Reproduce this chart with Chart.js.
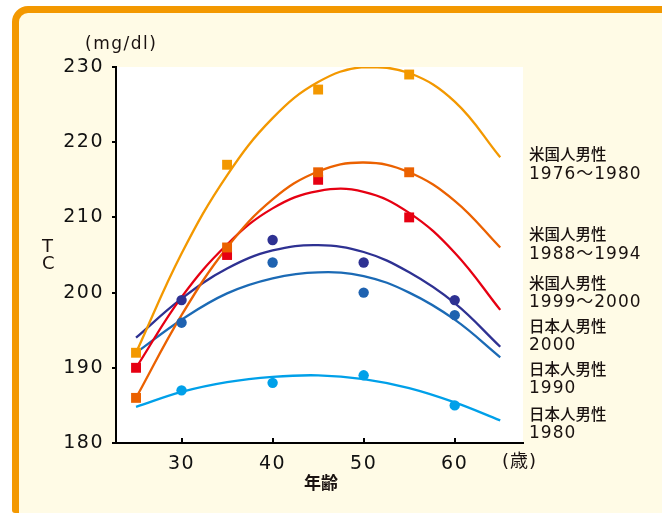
<!DOCTYPE html>
<html>
<head>
<meta charset="utf-8">
<script src="https://cdn.jsdelivr.net/npm/chart.js@4.4.1/dist/chart.umd.min.js"></script>
<style>
  html, body { margin: 0; padding: 0; background: #fff; overflow: hidden; }
  #wrap { position: relative; width: 662px; height: 514px; overflow: hidden; }
  .frame {
    position: absolute; left: 12px; top: 6px; width: 700px; height: 507px;
    box-sizing: border-box; border: 7px solid #F39800; border-bottom: 0;
    border-radius: 16px 16px 0 3px; background: #FFFBE6;
  }
  canvas { position: absolute; left: 0; top: 0; }
  .lbl { position: absolute; color: #1a1210; white-space: nowrap; }
  .num { font-family: "DejaVu Sans", "Noto Sans CJK JP", sans-serif; }
  .jp { font-family: "Noto Sans CJK JP", sans-serif; }
  .ser { left: 529px; line-height: 19px; }
  .ser .jp { font-size: 15.5px; font-weight: 500; }
  .ser .num { font-size: 17px; letter-spacing: 1px; }
</style>
</head>
<body>
<div id="wrap">
  <div class="frame"></div>
  <canvas id="tc-chart" width="662" height="514"></canvas>
  <div class="lbl num" style="left:85px; top:33px; font-size:17px; line-height:20px; letter-spacing:1.5px;">(mg/dl)</div>
  <div class="lbl num" style="left:42px; top:237px; font-size:18px; line-height:17px;">T<br>C</div>
  <div class="lbl jp" style="left:304px; top:472px; font-size:17px; line-height:20px; font-weight:700;">年齢</div>
  <div class="lbl num" style="left:502px; top:450px; font-size:18px; line-height:22px; letter-spacing:1px;">(歳)</div>
  <div id="series-labels"></div>
</div>
<script>
// ages used for the fitted curves and for the two survey groups
const curveAges = [25, 30, 35, 40, 45, 50, 55, 60, 65];
const usAges = [25, 35, 45, 55];
const jpAges = [30, 40, 50, 60];

// fitted curves
const us7680Curve = [192, 205.2, 215.6, 223.2, 228.0, 230.0, 229.2, 225.4, 218.0];
const us8894Curve = [186, 197.0, 206.0, 212.4, 216.1, 217.3, 216.0, 212.2, 206.0];
const us9900Curve = [190, 199.4, 206.4, 211.2, 213.5, 213.4, 210.6, 205.3, 197.7];
const jp2000Curve = [194, 199.2, 203.2, 205.6, 206.3, 205.4, 202.7, 198.6, 192.8];
const jp1990Curve = [192, 196.4, 199.9, 201.9, 202.7, 202.2, 200.0, 196.4, 191.4];
const jp1980Curve = [184.8, 186.8, 188.1, 188.8, 189.0, 188.5, 187.3, 185.4, 183.0];

// measured points
const us7680Pts = [192, 217, 227, 229];
const us8894Pts = [186, 206, 216, 216];
const us9900Pts = [190, 205, 215, 210];
const jp2000Pts = [199, 207, 204, 199];
const jp1990Pts = [196, 204, 200, 197];
const jp1980Pts = [187, 188, 189, 185];

const seriesNames = [
    ["米国人男性", "1976～1980"],
    ["米国人男性", "1988～1994"],
    ["米国人男性", "1999～2000"],
    ["日本人男性", "2000"],
    ["日本人男性", "1990"],
    ["日本人男性", "1980"]
];

const xTicks = [30, 40, 50, 60];
const yTicks = [180, 190, 200, 210, 220, 230];

const colors = ["#F39800", "#EB6100", "#E60012", "#2E3192", "#1B6AB5", "#00A0E9"];

// label blocks on the right: top of each block and its line height, px
const labelTops = [143, 223, 273, 316, 359, 404];
const labelLines = [20, 20, 19, 19, 19, 19];
const holder = document.getElementById("series-labels");
seriesNames.forEach((lines, i) => {
    const div = document.createElement("div");
    div.className = "lbl ser";
    div.style.top = labelTops[i] + "px";
    div.style.lineHeight = labelLines[i] + "px";
    div.innerHTML = `<div class="jp">${lines[0]}</div><div class="num">${lines[1]}</div>`;
    holder.appendChild(div);
});

function toXY(xs, ys) {
    return xs.map((x, i) => ({ x: x, y: ys[i] }));
}

function curve(ys, color) {
    return {
        data: toXY(curveAges, ys),
        showLine: true,
        borderColor: color,
        borderWidth: 2.3,
        pointRadius: 0,
        tension: 0.4,
        fill: false,
        order: 2
    };
}

function marks(xs, ys, color, style) {
    return {
        data: toXY(xs, ys),
        showLine: false,
        pointStyle: style,
        pointRadius: style === "rect" ? 7 : 5.2,
        backgroundColor: color,
        borderColor: color,
        borderWidth: 0,
        order: 1
    };
}

// white plot area, and wider digits for the tick labels
const plotBackground = {
    id: "plotBackground",
    beforeDraw(chart) {
        const { ctx, chartArea } = chart;
        ctx.save();
        ctx.fillStyle = "#ffffff";
        ctx.fillRect(chartArea.left, chartArea.top,
            chartArea.right - chartArea.left, chartArea.bottom - chartArea.top);
        ctx.restore();
        ctx.letterSpacing = "1.5px";
    }
};

const tickFont = { family: "DejaVu Sans", size: 19 };

new Chart(document.getElementById("tc-chart"), {
    type: "scatter",
    data: {
        datasets: [
            curve(us7680Curve, colors[0]),
            curve(us8894Curve, colors[1]),
            curve(us9900Curve, colors[2]),
            curve(jp2000Curve, colors[3]),
            curve(jp1990Curve, colors[4]),
            curve(jp1980Curve, colors[5]),
            marks(usAges, us7680Pts, colors[0], "rect"),
            marks(usAges, us8894Pts, colors[1], "rect"),
            marks(usAges, us9900Pts, colors[2], "rect"),
            marks(jpAges, jp2000Pts, colors[3], "circle"),
            marks(jpAges, jp1990Pts, "#1E62B0", "circle"),
            marks(jpAges, jp1980Pts, colors[5], "circle")
        ]
    },
    options: {
        responsive: false,
        animation: false,
        layout: { padding: { left: 0, top: 67, right: 139, bottom: 0 } },
        plugins: {
            legend: { display: false },
            tooltip: { enabled: false }
        },
        scales: {
            x: {
                type: "linear",
                min: 22.8,
                max: 67.5,
                afterBuildTicks: (scale) => { scale.ticks = xTicks.map(v => ({ value: v })); },
                afterFit: (scale) => { scale.height = 71; },
                border: { display: true, color: "#000", width: 2 },
                grid: { drawOnChartArea: false, drawTicks: true, tickLength: -5, color: "#000", lineWidth: 2 },
                ticks: { color: "#111", font: tickFont, padding: 15, maxRotation: 0, autoSkip: false }
            },
            y: {
                min: 180,
                max: 230,
                afterBuildTicks: (scale) => { scale.ticks = yTicks.map(v => ({ value: v })); },
                afterFit: (scale) => { scale.width = 116; },
                border: { display: true, color: "#000", width: 2 },
                grid: { drawOnChartArea: false, drawTicks: true, tickLength: 4, color: "#000", lineWidth: 2 },
                ticks: { color: "#111", font: tickFont, padding: 8 }
            }
        }
    },
    plugins: [plotBackground]
});
</script>
</body>
</html>
